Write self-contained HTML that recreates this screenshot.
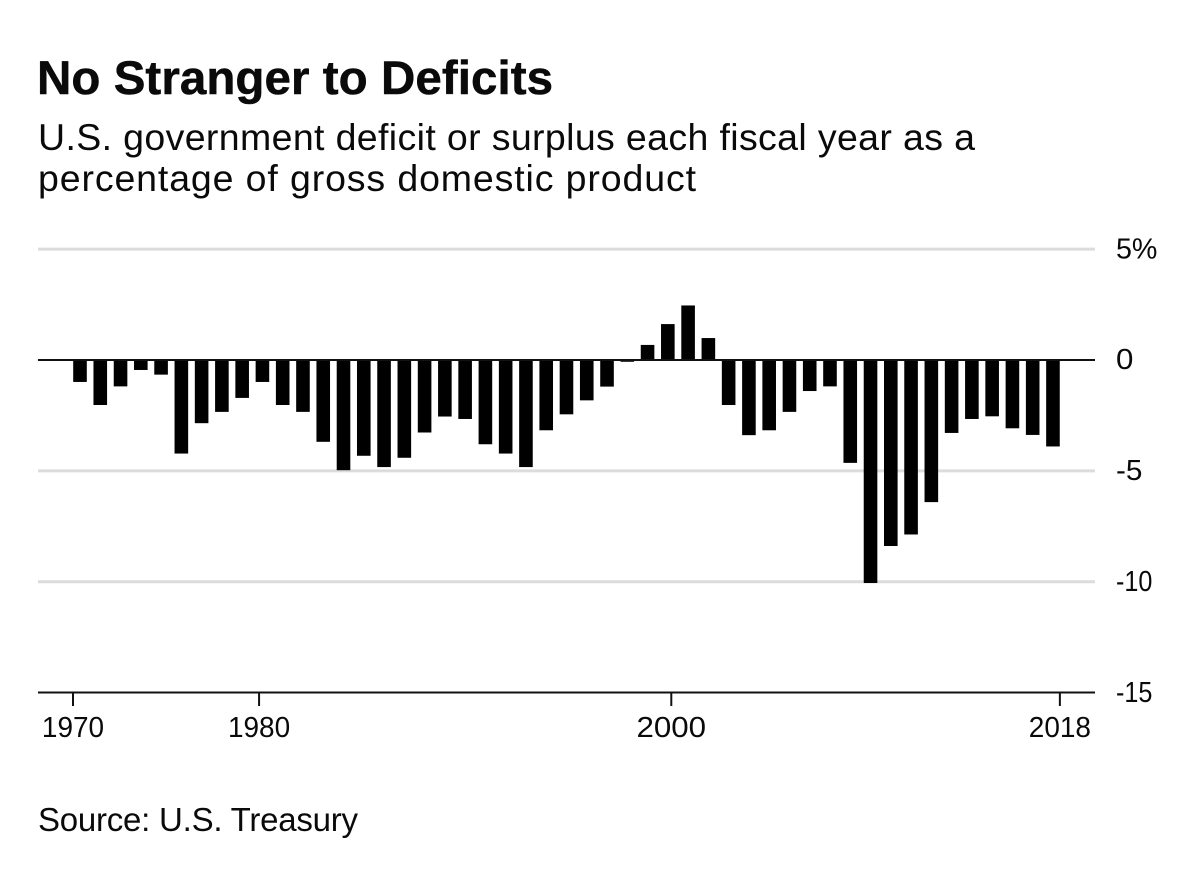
<!DOCTYPE html>
<html lang="en">
<head>
<meta charset="utf-8">
<title>No Stranger to Deficits</title>
<style>
html,body{margin:0;padding:0;background:#fff;width:1200px;height:874px;overflow:hidden}
svg{display:block}
text{font-family:"Liberation Sans",Arial,sans-serif;fill:#0a0a0a}
</style>
</head>
<body>
<svg id="chart" width="1200" height="874" viewBox="0 0 1200 874" xmlns="http://www.w3.org/2000/svg">
  <rect x="0" y="0" width="1200" height="874" fill="#fff"/>
  <text x="37" y="94" font-size="47.5" font-weight="700" stroke="#0a0a0a" stroke-width="0.5" textLength="516" lengthAdjust="spacing">No Stranger to Deficits</text>
  <text x="38" y="150" font-size="37.5" textLength="937" lengthAdjust="spacing">U.S. government deficit or surplus each fiscal year as a</text>
  <text x="38" y="191" font-size="37.5" textLength="658" lengthAdjust="spacing">percentage of gross domestic product</text>
  <g id="gridlines"></g>
  <g id="bars"></g>
  <g id="y-axis"></g>
  <g id="x-axis"></g>
  <text x="38" y="831" font-size="33" textLength="320" lengthAdjust="spacing">Source: U.S. Treasury</text>
</svg>
<script>
var years = [1970,1971,1972,1973,1974,1975,1976,1977,1978,1979,
             1980,1981,1982,1983,1984,1985,1986,1987,1988,1989,
             1990,1991,1992,1993,1994,1995,1996,1997,1998,1999,
             2000,2001,2002,2003,2004,2005,2006,2007,2008,2009,
             2010,2011,2012,2013,2014,2015,2016,2017,2018];
var balances = [-0.99,-2.03,-1.19,-0.45,-0.66,-4.22,-2.85,-2.34,-1.71,-0.99,
                -2.03,-2.34,-3.69,-4.97,-4.32,-4.83,-4.41,-3.27,-2.55,-2.66,
                -3.80,-4.22,-4.83,-3.17,-2.45,-1.82,-1.20,-0.08,0.68,1.62,
                2.46,0.99,-2.03,-3.39,-3.17,-2.34,-1.40,-1.19,-4.64,-10.06,
                -8.39,-7.87,-6.41,-3.29,-2.66,-2.54,-3.08,-3.38,-3.90];
var yTicks = [5,0,-5,-10,-15];
var yTickLabels = ["5%","0","-5","-10","-15"];
var xTickYears = [1970,1979.05,1999.1,2018];
var xTickLabels = ["1970","1980","2000","2018"];

var NS = "http://www.w3.org/2000/svg";
function make(tag, attrs, parent){
  var el = document.createElementNS(NS, tag);
  for (var k in attrs) el.setAttribute(k, attrs[k]);
  parent.appendChild(el);
  return el;
}
function y(v){ return 360 - v * 22.17; }
function barX(year){ return 80 + (year - 1970) * 20.27; }
function tickX(year){ return 73 + (year - 1970) * 20.56; }
function labelWidth(s){
  var w = 0;
  for (var i = 0; i < s.length; i++) {
    var c = s.charAt(i);
    w += c === "1" ? 10 : c === "-" ? 9 : c === "%" ? 24 : 17.4;
  }
  return w;
}

var gridG = document.getElementById("gridlines");
var barsG = document.getElementById("bars");
var yG = document.getElementById("y-axis");
var xG = document.getElementById("x-axis");

yTicks.forEach(function(t, i){
  var isZero = t === 0;
  var isBase = t === -15;
  var line = make("line", {
    x1: 38, x2: 1095, y1: y(t), y2: y(t),
    stroke: (isZero || isBase) ? "#111" : "#dcdcdc",
    "stroke-width": (isZero || isBase) ? 2 : 3
  }, isZero ? yG : gridG);
  
  
  var label = make("text", { x: 1116, y: y(t) + 9.2, "font-size": 28.5, textLength: labelWidth(yTickLabels[i]), lengthAdjust: "spacingAndGlyphs" }, yG);
  
  
  label.textContent = yTickLabels[i];
});

years.forEach(function(year, i){
  var v = balances[i];
  var top = Math.min(y(v), y(0));
  var h = Math.abs(y(v) - y(0));
  var bar = make("rect", { x: barX(year) - 6.8, y: top, width: 13.6, height: h, fill: "#000" }, barsG);
  
  
});

xTickYears.forEach(function(year, i){
  var tx = tickX(year);
  var tick = make("line", { x1: tx, x2: tx, y1: y(-15), y2: 706, stroke: "#111", "stroke-width": 2 }, xG);
  
  
  var w = labelWidth(xTickLabels[i]);
  var label = make("text", { x: tx - w / 2, y: 737, "font-size": 28.5, textLength: w, lengthAdjust: "spacingAndGlyphs" }, xG);
  
  
  label.textContent = xTickLabels[i];
});
</script>
</body>
</html>
